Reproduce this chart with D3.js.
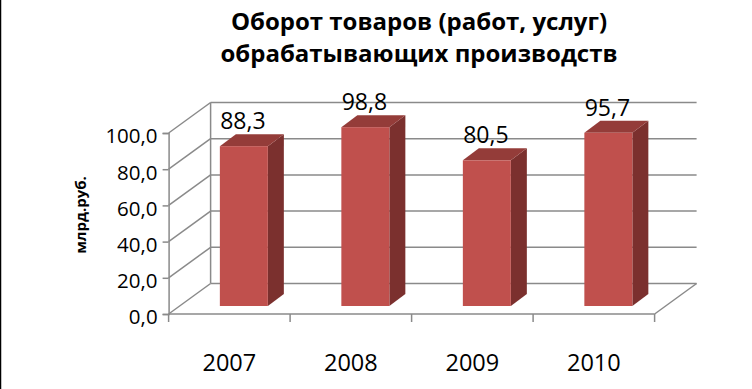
<!DOCTYPE html>
<html>
<head>
<meta charset="utf-8">
<script src="https://cdn.jsdelivr.net/npm/d3@7"></script>
<style>
  body { margin: 0; background: #fff; }
  svg text { font-family: "Open Sans", "Liberation Sans", sans-serif; fill: #000; }
</style>
</head>
<body>
<svg id="chart"></svg>
<script>
// chart data
const years = ['2007', '2008', '2009', '2010'];
const values = [88.3, 98.8, 80.5, 95.7];
const yTicks = [0, 20, 40, 60, 80, 100];
const titleLines = ['Оборот  товаров (работ, услуг)', 'обрабатывающих производств'];
const yLabel = 'млрд.руб.';

const width = 752, height = 389;
const depth = { dx: 42, dy: -30.5 };      // offset of back wall
const barFront = { dx: 14.5, dy: -8 };    // bar front face offset from front plane
const barDepth = { dx: 16, dy: -12 };     // bar thickness
const grid = '#8a8a8a';

const svg = d3.select('#chart')
    .attr('width', width)
    .attr('height', height);

// left border of the picture
svg.append('line')
    .attr('x1', 0.5).attr('x2', 0.5)
    .attr('y1', 0).attr('y2', height)
    .attr('stroke', '#000').attr('stroke-width', 1.5);

// title
svg.append('text')
    .attr('x', 419)
    .attr('y', 30)
    .attr('text-anchor', 'middle')
    .style('font-size', '24px')
    .style('font-weight', 'bold')
    .selectAll('tspan')
    .data(titleLines)
  .join('tspan')
    .attr('x', 419)
    .attr('dy', (d, i) => i === 0 ? 0 : 32)
    .text(d => d);

// scales
const xScale = d3.scaleBand()
    .domain(years)
    .range([168.6, 654.6]);

const yScale = d3.scaleLinear()
    .domain([0, 100])
    .range([314, 133]);

const x0 = xScale.range()[0], x1 = xScale.range()[1];
const yb = v => yScale(v) + depth.dy;

const g = svg.append('g');

// back wall grid lines
g.selectAll('.grid')
    .data(yTicks)
  .join('line')
    .attr('class', 'grid')
    .attr('x1', x0 + depth.dx).attr('x2', x1 + depth.dx)
    .attr('y1', d => yb(d)).attr('y2', d => yb(d))
    .attr('stroke', grid).attr('stroke-width', 1.5);

// left wall diagonals
g.selectAll('.wall')
    .data(yTicks)
  .join('line')
    .attr('class', 'wall')
    .attr('x1', x0).attr('y1', d => yScale(d))
    .attr('x2', x0 + depth.dx).attr('y2', d => yb(d))
    .attr('stroke', grid).attr('stroke-width', 1.5);

// back wall left edge
g.append('line')
    .attr('x1', x0 + depth.dx).attr('x2', x0 + depth.dx)
    .attr('y1', yb(0)).attr('y2', yb(100))
    .attr('stroke', grid).attr('stroke-width', 1.5);

// floor right edge
g.append('line')
    .attr('x1', x1).attr('y1', yScale(0))
    .attr('x2', x1 + depth.dx).attr('y2', yb(0))
    .attr('stroke', grid).attr('stroke-width', 1.5);

// front y axis
const yAxis = d3.axisLeft(yScale)
    .tickValues(yTicks)
    .tickSize(6)
    .tickPadding(5)
    .tickFormat(d => d3.format('.1f')(d).replace('.', ','));

const yAxisG = svg.append('g')
    .attr('transform', `translate(${x0},0)`)
    .call(yAxis);
yAxisG.select('.domain').attr('stroke', grid).attr('stroke-width', 1.5);
yAxisG.selectAll('.tick line').attr('stroke', grid).attr('stroke-width', 1.5);
yAxisG.selectAll('.tick text')
    .attr('dy', '0.48em')
    .attr('fill', '#000')
    .style('font-size', '20.5px')
    .style('font-family', '"Open Sans", sans-serif');

// front x axis
svg.append('line')
    .attr('x1', x0).attr('x2', x1)
    .attr('y1', yScale(0)).attr('y2', yScale(0))
    .attr('stroke', grid).attr('stroke-width', 1.5);

const bounds = years.map(d => xScale(d)).concat([x1]);
svg.selectAll('.xtick')
    .data(bounds)
  .join('line')
    .attr('class', 'xtick')
    .attr('x1', d => d).attr('x2', d => d)
    .attr('y1', yScale(0)).attr('y2', yScale(0) + 8)
    .attr('stroke', grid).attr('stroke-width', 1.5);

svg.selectAll('.year')
    .data(years)
  .join('text')
    .attr('class', 'year')
    .attr('x', d => xScale(d) + xScale.bandwidth() / 2)
    .attr('y', 371)
    .attr('text-anchor', 'middle')
    .style('font-size', '23.5px')
    .text(d => d);

// y axis title
svg.append('text')
    .attr('transform', 'translate(86,215) rotate(-90)')
    .attr('text-anchor', 'middle')
    .style('font-size', '15px')
    .style('font-weight', 'bold')
    .text(yLabel);

// bars
const barW = xScale.bandwidth() * 0.395;
const data = years.map((y, i) => ({ year: y, value: values[i] }));
const barLeft = d => xScale(d.year) + xScale.bandwidth() / 2 + barFront.dx - barW / 2;
const barTop = d => yScale(d.value) + barFront.dy;
const barBottom = yScale(0) + barFront.dy;

const bars = svg.selectAll('.bar')
    .data(data)
  .join('g')
    .attr('class', 'bar');

// side face
bars.append('polygon')
    .attr('points', d => {
      const l = barLeft(d), r = l + barW, t = barTop(d);
      return [[r, t], [r + barDepth.dx, t + barDepth.dy], [r + barDepth.dx, barBottom + barDepth.dy], [r, barBottom]].join(' ');
    })
    .attr('fill', '#7b302e');

// top face
bars.append('polygon')
    .attr('points', d => {
      const l = barLeft(d), r = l + barW, t = barTop(d);
      return [[l, t], [l + barDepth.dx, t + barDepth.dy], [r + barDepth.dx, t + barDepth.dy], [r, t]].join(' ');
    })
    .attr('fill', '#943c39');

bars.append('rect')
    .attr('x', barLeft)
    .attr('y', barTop)
    .attr('width', barW)
    .attr('height', d => barBottom - barTop(d))
    .attr('fill', '#c0504d');

bars.append('text')
    .attr('x', d => barLeft(d) + barW / 2 - 1)
    .attr('y', d => barTop(d) - 17)
    .attr('text-anchor', 'middle')
    .style('font-size', '23px')
    .text(d => d3.format('.1f')(d.value).replace('.', ','));
</script>
</body>
</html>
